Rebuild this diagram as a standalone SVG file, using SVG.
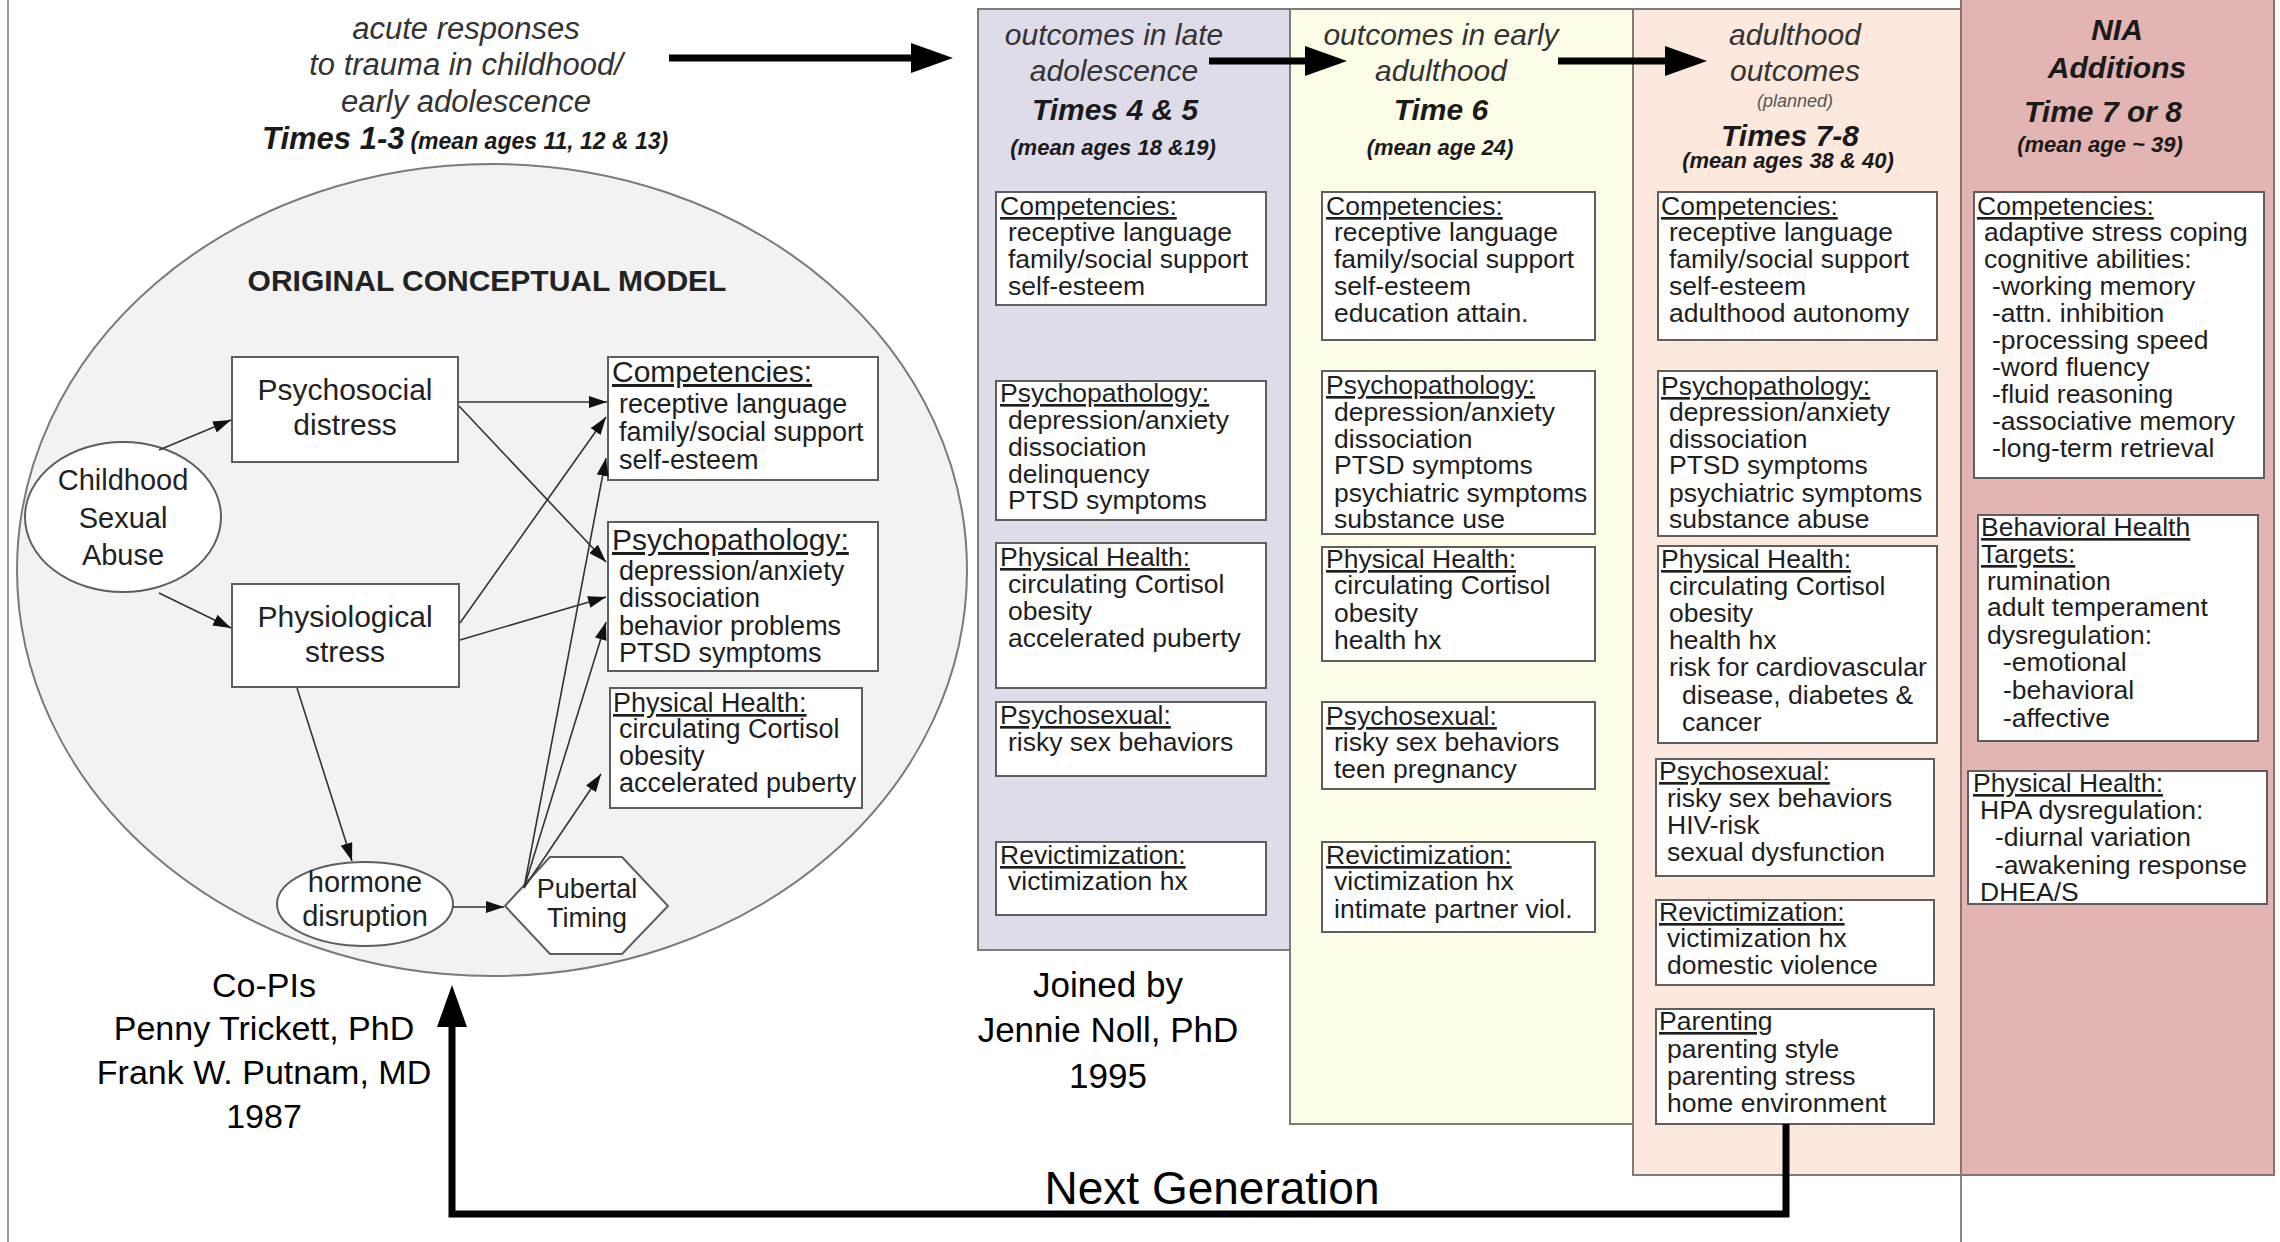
<svg xmlns="http://www.w3.org/2000/svg" width="2280" height="1242" viewBox="0 0 2280 1242">
<defs>
<style>
.t{font-family:"Liberation Sans",Arial,sans-serif;fill:#1e1e1e}
.it{font-size:26.5px}
.ttl{font-size:26.5px;text-decoration:underline}
.hd{font-family:"Liberation Sans",Arial,sans-serif;font-style:italic;font-size:30px;fill:#333;text-anchor:middle}
.hd31{font-size:31px}
.tm{font-family:"Liberation Sans",Arial,sans-serif;font-style:italic;font-weight:bold;font-size:30px;fill:#1a1a1a;text-anchor:middle}
.sm{font-family:"Liberation Sans",Arial,sans-serif;font-style:italic;font-weight:bold;font-size:22px;fill:#1a1a1a;text-anchor:middle}
.box{fill:#fff;stroke:#5e5e5e;stroke-width:2}
.panel{stroke:#7c7c7c;stroke-width:2}
.nl{font-family:"Liberation Sans",Arial,sans-serif;font-size:30px;fill:#222;text-anchor:middle}
.nl29{font-size:29px}
.nl28{font-size:29px}
.nl24{font-size:27px}
.mt{font-size:30px;text-decoration:underline}
.mt27{font-size:27px;text-decoration:underline}
.mi{font-size:27px}
.thin{stroke:#333;stroke-width:1.6;fill:none}
.thick{stroke:#000;stroke-width:7;fill:none}
.cap{font-family:"Liberation Sans",Arial,sans-serif;font-size:34px;fill:#000;text-anchor:middle}
.cap35{font-size:35px}
.cap46{font-size:46px}
</style>
<marker id="ah" viewBox="0 0 18 12" refX="18" refY="6" markerWidth="18" markerHeight="12" markerUnits="userSpaceOnUse" orient="auto"><path d="M0,0 L18,6 L0,12 z" fill="#111"/></marker>
<marker id="big" viewBox="0 0 42 30" refX="1" refY="15" markerWidth="42" markerHeight="30" markerUnits="userSpaceOnUse" orient="auto"><path d="M0,0 L42,15 L0,30 z" fill="#000"/></marker>
</defs>
<rect x="0" y="0" width="2280" height="1242" fill="#fff"/>
<line x1="8" y1="0" x2="8" y2="1242" stroke="#999" stroke-width="2"/>
<line x1="1961" y1="1175" x2="1961" y2="1242" stroke="#888" stroke-width="2"/>

<!-- column panels -->
<g id="panel-late-adolescence"><rect class="panel" x="978" y="9" width="312" height="941" fill="#dfdcea"/></g>
<g id="panel-early-adulthood"><rect class="panel" x="1290" y="9" width="343" height="1115" fill="#fdfde7"/></g>
<g id="panel-adulthood"><rect class="panel" x="1633" y="9" width="328" height="1166" fill="#fce8dc"/></g>
<g id="panel-nia"><rect x="1961" y="-2" width="313" height="1177" fill="#e2b4b2" stroke="#8c7070" stroke-width="2"/></g>

<!-- headers -->
<g id="hdr-acute">
<text class="hd hd31" x="466" y="39">acute responses</text>
<text class="hd hd31" x="466" y="75">to trauma in childhood/</text>
<text class="hd hd31" x="466" y="112">early adolescence</text>
<text x="262" y="149" font-family="Liberation Sans, Arial, sans-serif" font-style="italic" font-weight="bold" fill="#1a1a1a"><tspan font-size="31">Times 1-3</tspan><tspan font-size="23" dx="6">(mean ages 11, 12 &amp; 13)</tspan></text>
</g>
<g id="hdr-late">
<text class="hd" x="1114" y="45">outcomes in late</text>
<text class="hd" x="1114" y="81">adolescence</text>
<text class="tm" x="1115" y="120">Times 4 &amp; 5</text>
<text class="sm" x="1113" y="155">(mean ages 18 &amp;19)</text>
</g>
<g id="hdr-early">
<text class="hd" x="1441" y="45">outcomes in early</text>
<text class="hd" x="1441" y="81">adulthood</text>
<text class="tm" x="1441" y="120">Time 6</text>
<text class="sm" x="1440" y="155">(mean age 24)</text>
</g>
<g id="hdr-adult">
<text class="hd" x="1795" y="45">adulthood</text>
<text class="hd" x="1795" y="81">outcomes</text>
<text x="1795" y="107" font-family="Liberation Sans, Arial, sans-serif" font-style="italic" font-size="18" fill="#555" text-anchor="middle">(planned)</text>
<text class="tm" x="1790" y="146">Times 7-8</text>
<text class="sm" x="1788" y="168">(mean ages 38 &amp; 40)</text>
</g>
<g id="hdr-nia">
<text class="tm" x="2117" y="40">NIA</text>
<text class="tm" x="2117" y="78">Additions</text>
<text class="tm" x="2103" y="122">Time 7 or 8</text>
<text class="sm" x="2100" y="152">(mean age ~ 39)</text>
</g>

<!-- original conceptual model -->
<g id="model-ellipse">
<ellipse cx="492" cy="570" rx="475" ry="406" fill="#f2f2f2" stroke="#7a7a7a" stroke-width="2"/>
<text x="487" y="291" font-family="Liberation Sans, Arial, sans-serif" font-weight="bold" font-size="30" fill="#222" text-anchor="middle">ORIGINAL CONCEPTUAL MODEL</text>
</g>
<g id="csa">
<ellipse cx="123" cy="517" rx="98" ry="75" fill="#fff" stroke="#5e5e5e" stroke-width="2"/>
<text class="nl nl29" x="123" y="490">Childhood</text>
<text class="nl nl29" x="123" y="528">Sexual</text>
<text class="nl nl29" x="123" y="565">Abuse</text>
</g>
<g id="psychosocial">
<rect class="box" x="232" y="357" width="226" height="105"/>
<text class="nl" x="345" y="400">Psychosocial</text>
<text class="nl" x="345" y="435">distress</text>
</g>
<g id="physiological">
<rect class="box" x="232" y="584" width="227" height="103"/>
<text class="nl" x="345" y="627">Physiological</text>
<text class="nl" x="345" y="662">stress</text>
</g>
<g id="hormone">
<ellipse cx="365" cy="904" rx="88" ry="42" fill="#fff" stroke="#5e5e5e" stroke-width="2"/>
<text class="nl nl28" x="365" y="892">hormone</text>
<text class="nl nl28" x="365" y="926">disruption</text>
</g>
<g id="pubertal">
<polygon points="505,906 550,857 622,857 668,906 622,954 550,954" fill="#fff" stroke="#5e5e5e" stroke-width="2"/>
<text class="nl nl24" x="587" y="898">Pubertal</text>
<text class="nl nl24" x="587" y="927">Timing</text>
</g>
<g id="m-competencies" class="t">
<rect class="box" x="608" y="357" width="270" height="123"/>
<text class="mt" x="612" y="382">Competencies:</text>
<text class="mi" x="619" y="413">receptive language</text>
<text class="mi" x="619" y="441">family/social support</text>
<text class="mi" x="619" y="469">self-esteem</text>
</g>
<g id="m-psychopathology" class="t">
<rect class="box" x="608" y="522" width="270" height="149"/>
<text class="mt" x="612" y="550">Psychopathology:</text>
<text class="mi" x="619" y="580">depression/anxiety</text>
<text class="mi" x="619" y="607">dissociation</text>
<text class="mi" x="619" y="635">behavior problems</text>
<text class="mi" x="619" y="662">PTSD symptoms</text>
</g>
<g id="m-physical" class="t">
<rect class="box" x="610" y="688" width="252" height="120"/>
<text class="mt27" x="613" y="712">Physical Health:</text>
<text class="mi" x="619" y="738">circulating Cortisol</text>
<text class="mi" x="619" y="765">obesity</text>
<text class="mi" x="619" y="792">accelerated puberty</text>
</g>

<!-- purple column -->
<g id="la-competencies" class="t">
<rect class="box" x="996" y="192" width="270" height="113"/>
<text class="ttl" x="1000" y="215">Competencies:</text>
<text class="it" x="1008" y="241">receptive language</text>
<text class="it" x="1008" y="268">family/social support</text>
<text class="it" x="1008" y="295">self-esteem</text>
</g>
<g id="la-psychopathology" class="t">
<rect class="box" x="996" y="381" width="270" height="139"/>
<text class="ttl" x="1000" y="402">Psychopathology:</text>
<text class="it" x="1008" y="429">depression/anxiety</text>
<text class="it" x="1008" y="456">dissociation</text>
<text class="it" x="1008" y="483">delinquency</text>
<text class="it" x="1008" y="509">PTSD symptoms</text>
</g>
<g id="la-physical" class="t">
<rect class="box" x="996" y="543" width="270" height="145"/>
<text class="ttl" x="1000" y="566">Physical Health:</text>
<text class="it" x="1008" y="593">circulating Cortisol</text>
<text class="it" x="1008" y="620">obesity</text>
<text class="it" x="1008" y="647">accelerated puberty</text>
</g>
<g id="la-psychosexual" class="t">
<rect class="box" x="996" y="702" width="270" height="74"/>
<text class="ttl" x="1000" y="724">Psychosexual:</text>
<text class="it" x="1008" y="751">risky sex behaviors</text>
</g>
<g id="la-revict" class="t">
<rect class="box" x="996" y="842" width="270" height="73"/>
<text class="ttl" x="1000" y="864">Revictimization:</text>
<text class="it" x="1008" y="890">victimization hx</text>
</g>

<!-- yellow column -->
<g id="ea-competencies" class="t">
<rect class="box" x="1322" y="192" width="273" height="148"/>
<text class="ttl" x="1326" y="215">Competencies:</text>
<text class="it" x="1334" y="241">receptive language</text>
<text class="it" x="1334" y="268">family/social support</text>
<text class="it" x="1334" y="295">self-esteem</text>
<text class="it" x="1334" y="322">education attain.</text>
</g>
<g id="ea-psychopathology" class="t">
<rect class="box" x="1322" y="371" width="273" height="163"/>
<text class="ttl" x="1326" y="394">Psychopathology:</text>
<text class="it" x="1334" y="421">depression/anxiety</text>
<text class="it" x="1334" y="448">dissociation</text>
<text class="it" x="1334" y="474">PTSD symptoms</text>
<text class="it" x="1334" y="502">psychiatric symptoms</text>
<text class="it" x="1334" y="528">substance use</text>
</g>
<g id="ea-physical" class="t">
<rect class="box" x="1322" y="547" width="273" height="114"/>
<text class="ttl" x="1326" y="568">Physical Health:</text>
<text class="it" x="1334" y="594">circulating Cortisol</text>
<text class="it" x="1334" y="622">obesity</text>
<text class="it" x="1334" y="649">health hx</text>
</g>
<g id="ea-psychosexual" class="t">
<rect class="box" x="1322" y="702" width="273" height="87"/>
<text class="ttl" x="1326" y="725">Psychosexual:</text>
<text class="it" x="1334" y="751">risky sex behaviors</text>
<text class="it" x="1334" y="778">teen pregnancy</text>
</g>
<g id="ea-revict" class="t">
<rect class="box" x="1322" y="842" width="273" height="90"/>
<text class="ttl" x="1326" y="864">Revictimization:</text>
<text class="it" x="1334" y="890">victimization hx</text>
<text class="it" x="1334" y="918">intimate partner viol.</text>
</g>

<!-- peach column -->
<g id="ad-competencies" class="t">
<rect class="box" x="1658" y="192" width="279" height="148"/>
<text class="ttl" x="1661" y="215">Competencies:</text>
<text class="it" x="1669" y="241">receptive language</text>
<text class="it" x="1669" y="268">family/social support</text>
<text class="it" x="1669" y="295">self-esteem</text>
<text class="it" x="1669" y="322">adulthood autonomy</text>
</g>
<g id="ad-psychopathology" class="t">
<rect class="box" x="1658" y="371" width="279" height="165"/>
<text class="ttl" x="1661" y="395">Psychopathology:</text>
<text class="it" x="1669" y="421">depression/anxiety</text>
<text class="it" x="1669" y="448">dissociation</text>
<text class="it" x="1669" y="474">PTSD symptoms</text>
<text class="it" x="1669" y="502">psychiatric symptoms</text>
<text class="it" x="1669" y="528">substance abuse</text>
</g>
<g id="ad-physical" class="t">
<rect class="box" x="1658" y="546" width="279" height="197"/>
<text class="ttl" x="1661" y="568">Physical Health:</text>
<text class="it" x="1669" y="595">circulating Cortisol</text>
<text class="it" x="1669" y="622">obesity</text>
<text class="it" x="1669" y="649">health hx</text>
<text class="it" x="1669" y="676">risk for cardiovascular</text>
<text class="it" x="1682" y="704">disease, diabetes &amp;</text>
<text class="it" x="1682" y="731">cancer</text>
</g>
<g id="ad-psychosexual" class="t">
<rect class="box" x="1656" y="759" width="278" height="117"/>
<text class="ttl" x="1659" y="780">Psychosexual:</text>
<text class="it" x="1667" y="807">risky sex behaviors</text>
<text class="it" x="1667" y="834">HIV-risk</text>
<text class="it" x="1667" y="861">sexual dysfunction</text>
</g>
<g id="ad-revict" class="t">
<rect class="box" x="1656" y="900" width="278" height="85"/>
<text class="ttl" x="1659" y="921">Revictimization:</text>
<text class="it" x="1667" y="947">victimization hx</text>
<text class="it" x="1667" y="974">domestic violence</text>
</g>
<g id="ad-parenting" class="t">
<rect class="box" x="1656" y="1009" width="278" height="115"/>
<text class="ttl" x="1659" y="1030">Parenting</text>
<text class="it" x="1667" y="1058">parenting style</text>
<text class="it" x="1667" y="1085">parenting stress</text>
<text class="it" x="1667" y="1112">home environment</text>
</g>

<!-- NIA column -->
<g id="nia-competencies" class="t">
<rect class="box" x="1974" y="192" width="290" height="286"/>
<text class="ttl" x="1977" y="215">Competencies:</text>
<text class="it" x="1984" y="241">adaptive stress coping</text>
<text class="it" x="1984" y="268">cognitive abilities:</text>
<text class="it" x="1992" y="295">-working memory</text>
<text class="it" x="1992" y="322">-attn. inhibition</text>
<text class="it" x="1992" y="349">-processing speed</text>
<text class="it" x="1992" y="376">-word fluency</text>
<text class="it" x="1992" y="403">-fluid reasoning</text>
<text class="it" x="1992" y="430">-associative memory</text>
<text class="it" x="1992" y="457">-long-term retrieval</text>
</g>
<g id="nia-behavioral" class="t">
<rect class="box" x="1978" y="515" width="280" height="226"/>
<text class="ttl" x="1981" y="536">Behavioral Health</text>
<text class="ttl" x="1981" y="563">Targets:</text>
<text class="it" x="1987" y="590">rumination</text>
<text class="it" x="1987" y="616">adult temperament</text>
<text class="it" x="1987" y="644">dysregulation:</text>
<text class="it" x="2003" y="671">-emotional</text>
<text class="it" x="2003" y="699">-behavioral</text>
<text class="it" x="2003" y="727">-affective</text>
</g>
<g id="nia-physical" class="t">
<rect class="box" x="1968" y="771" width="299" height="133"/>
<text class="ttl" x="1973" y="792">Physical Health:</text>
<text class="it" x="1980" y="819">HPA dysregulation:</text>
<text class="it" x="1995" y="846">-diurnal variation</text>
<text class="it" x="1995" y="874">-awakening response</text>
<text class="it" x="1980" y="901">DHEA/S</text>
</g>

<!-- captions -->
<g id="caption-copis">
<text class="cap" x="264" y="997">Co-PIs</text>
<text class="cap" x="264" y="1040">Penny Trickett, PhD</text>
<text class="cap" x="264" y="1084">Frank W. Putnam, MD</text>
<text class="cap" x="264" y="1128">1987</text>
</g>
<g id="caption-noll">
<text class="cap cap35" x="1108" y="997">Joined by</text>
<text class="cap cap35" x="1108" y="1042">Jennie Noll, PhD</text>
<text class="cap cap35" x="1108" y="1088">1995</text>
</g>
<g id="caption-next">
<text class="cap cap46" x="1212" y="1204">Next Generation</text>
</g>

<!-- connectors -->
<g id="connectors">
<line class="thin" x1="159" y1="450" x2="231" y2="420" marker-end="url(#ah)"/>
<line class="thin" x1="159" y1="593" x2="231" y2="628" marker-end="url(#ah)"/>
<line class="thin" x1="459" y1="402" x2="607" y2="402" marker-end="url(#ah)"/>
<line class="thin" x1="459" y1="406" x2="606" y2="562" marker-end="url(#ah)"/>
<line class="thin" x1="460" y1="623" x2="606" y2="417" marker-end="url(#ah)"/>
<line class="thin" x1="460" y1="640" x2="606" y2="597" marker-end="url(#ah)"/>
<line class="thin" x1="297" y1="688" x2="352" y2="861" marker-end="url(#ah)"/>
<line class="thin" x1="453" y1="907" x2="504" y2="907" marker-end="url(#ah)"/>
<line class="thin" x1="524" y1="888" x2="606" y2="458" marker-end="url(#ah)"/>
<line class="thin" x1="524" y1="888" x2="606" y2="622" marker-end="url(#ah)"/>
<line class="thin" x1="524" y1="888" x2="601" y2="774" marker-end="url(#ah)"/>
<line class="thick" x1="669" y1="58" x2="912" y2="58" marker-end="url(#big)"/>
<line class="thick" x1="1209" y1="61" x2="1306" y2="61" marker-end="url(#big)"/>
<line class="thick" x1="1558" y1="61" x2="1666" y2="61" marker-end="url(#big)"/>
<path class="thick" d="M1786,1124 V1214 H452 V1026" stroke-linejoin="miter" marker-end="url(#big)"/>
</g>
</svg>
